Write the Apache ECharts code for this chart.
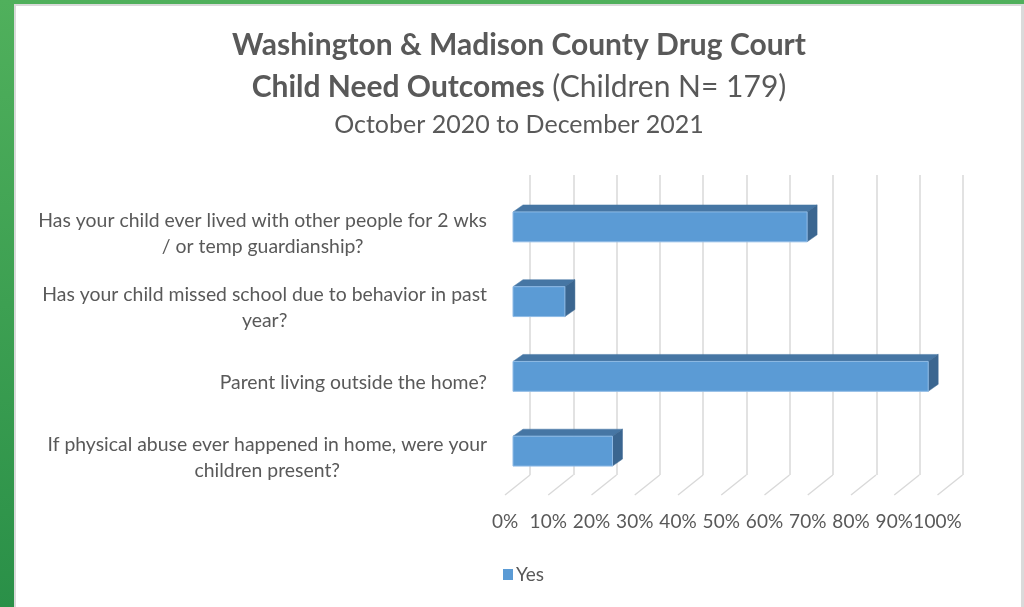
<!DOCTYPE html>
<html><head><meta charset="utf-8">
<script src="https://cdn.jsdelivr.net/npm/echarts@6/dist/echarts.min.js"></script>
<style>
html,body{margin:0;padding:0;width:1024px;height:607px;overflow:hidden;background:linear-gradient(#50b05c,#2a9048);}
#frame{position:absolute;left:14px;top:4px;width:1005px;height:601px;background:#fff;border-left:2px solid #dadada;border-top:2px solid #dadada;border-right:3px solid #dadada;}
#chart{position:absolute;left:0;top:0;width:1024px;height:607px;}
</style></head><body><div id="frame"></div><div id="chart"></div>
<script>
const categories = [
  'Has your child ever lived with other people for 2 wks\n/ or temp guardianship?',
  'Has your child missed school due to behavior in past\nyear?',
  'Parent living outside the home?',
  'If physical abuse ever happened in home, were your\nchildren present?'
];
const yesValues = [68, 12, 96, 23];
const tickValues = [0, 10, 20, 30, 40, 50, 60, 70, 80, 90, 100];
const seriesName = 'Yes';
const titleLine1 = 'Washington & Madison County Drug Court';
const titleLine2Bold = 'Child Need Outcomes';
const titleLine2Rest = '(Children N= 179)';
const titleLine3 = 'October 2020 to December 2021';

const FONT = 'Lato';
const TXT = '#595959';
const GRID = '#d9d9d9';
const DEPTH_X = 25, DEPTH_Y = 20;

const chart = echarts.init(document.getElementById('chart'), null, {renderer: 'canvas'});

const option = {
  backgroundColor: 'transparent',
  animation: false,
  title: [
    {text: titleLine1, left: 519, top: 29, textAlign: 'center', padding: 0,
     textStyle: {fontFamily: FONT, fontWeight: 'bold', fontSize: 30, color: TXT, lineHeight: 32}},
    {text: '{b|' + titleLine2Bold + '}{n| ' + titleLine2Rest + '}', left: 519, top: 71, textAlign: 'center', padding: 0,
     textStyle: {rich: {
       b: {fontFamily: FONT, fontWeight: 'bold', fontSize: 30, color: TXT, lineHeight: 32},
       n: {fontFamily: FONT, fontWeight: 'normal', fontSize: 30, color: TXT, lineHeight: 32}
     }}},
    {text: titleLine3, left: 519, top: 109, textAlign: 'center', padding: 0,
     textStyle: {fontFamily: FONT, fontWeight: 'normal', fontSize: 25, color: TXT, lineHeight: 32}}
  ],
  legend: {
    data: [seriesName], left: 498, top: 560, icon: 'rect', itemWidth: 10, itemHeight: 11, itemGap: 5,
    textStyle: {fontFamily: FONT, fontSize: 19, color: TXT, padding: [0,0,0,-2]}
  },
  grid: [
    {left: 505, top: 196, width: 432.5, height: 299},
    {left: 530, top: 175, width: 433, height: 300},
    {left: 513, top: 189.5, width: 432.5, height: 299}
  ],
  xAxis: [
    {gridIndex: 0, type: 'value', min: 0, max: 100, interval: 10,
     axisLine: {show: false}, axisTick: {show: false}, splitLine: {show: false},
     axisLabel: {formatter: '{value}%', margin: 17, fontFamily: FONT, fontSize: 19, color: TXT, showMinLabel: true, showMaxLabel: true}},
    {gridIndex: 1, type: 'value', min: 0, max: 100, interval: 10,
     axisLine: {show: false}, axisTick: {show: false}, axisLabel: {show: false},
     splitLine: {show: true, lineStyle: {color: GRID, width: 1.5}}},
    {gridIndex: 2, type: 'value', min: 0, max: 100, interval: 10, show: false}
  ],
  yAxis: [
    {gridIndex: 0, type: 'category', data: categories, inverse: true,
     axisLine: {show: false}, axisTick: {show: false}, splitLine: {show: false},
     axisLabel: {margin: 18, formatter: function (v) {
        return v.split('\n').map(function (l) { return '{c|' + l + '}'; }).join('\n');
      },
      rich: {c: {align: 'center', fontFamily: FONT, fontSize: 19.4, color: TXT, lineHeight: 26}}}},
    {gridIndex: 1, type: 'category', data: categories, inverse: true, show: false},
    {gridIndex: 2, type: 'category', data: categories, inverse: true, show: false}
  ],
  series: [
    {
      type: 'custom', name: 'floor', xAxisIndex: 0, yAxisIndex: 0, silent: true, z: 1,
      data: tickValues.map(function (t) { return [t, 0]; }),
      renderItem: function (params, api) {
        const cs = params.coordSys;
        const p = api.coord([api.value(0), 0]);
        const yb = cs.y + cs.height;
        return {type: 'line', shape: {x1: p[0], y1: yb, x2: p[0] + DEPTH_X, y2: yb - DEPTH_Y},
          style: {stroke: GRID, lineWidth: 1.5}};
      }
    },
    {
      type: 'custom', name: seriesName, xAxisIndex: 2, yAxisIndex: 2, z: 5,
      itemStyle: {color: '#5B9BD5'},
      data: yesValues.map(function (v, i) { return [v, i]; }),
      renderItem: function (params, api) {
        const v = api.value(0), c = api.value(1);
        const p0 = api.coord([0, c]);
        const p1 = api.coord([v, c]);
        const h = api.size([0, 1])[1] * 0.4;
        const dx = 10, dy = 7;
        const yT = p0[1] - h / 2, yB = p0[1] + h / 2;
        const x0 = p0[0], x1 = p1[0];
        return {type: 'group', children: [
          {type: 'polygon', shape: {points: [[x0, yT], [x1, yT], [x1 + dx, yT - dy], [x0 + dx, yT - dy]]},
           style: {fill: '#4676a4', stroke: '#4676a4', lineWidth: 0.5}},
          {type: 'polygon', shape: {points: [[x1, yT], [x1 + dx, yT - dy], [x1 + dx, yB - dy], [x1, yB]]},
           style: {fill: '#3b6690', stroke: '#3b6690', lineWidth: 0.5}},
          {type: 'rect', shape: {x: x0, y: yT, width: x1 - x0, height: h},
           style: {fill: '#5B9BD5', stroke: '#8fbbe6', lineWidth: 1}}
        ]};
      }
    }
  ]
};
chart.setOption(option);
</script></body></html>
